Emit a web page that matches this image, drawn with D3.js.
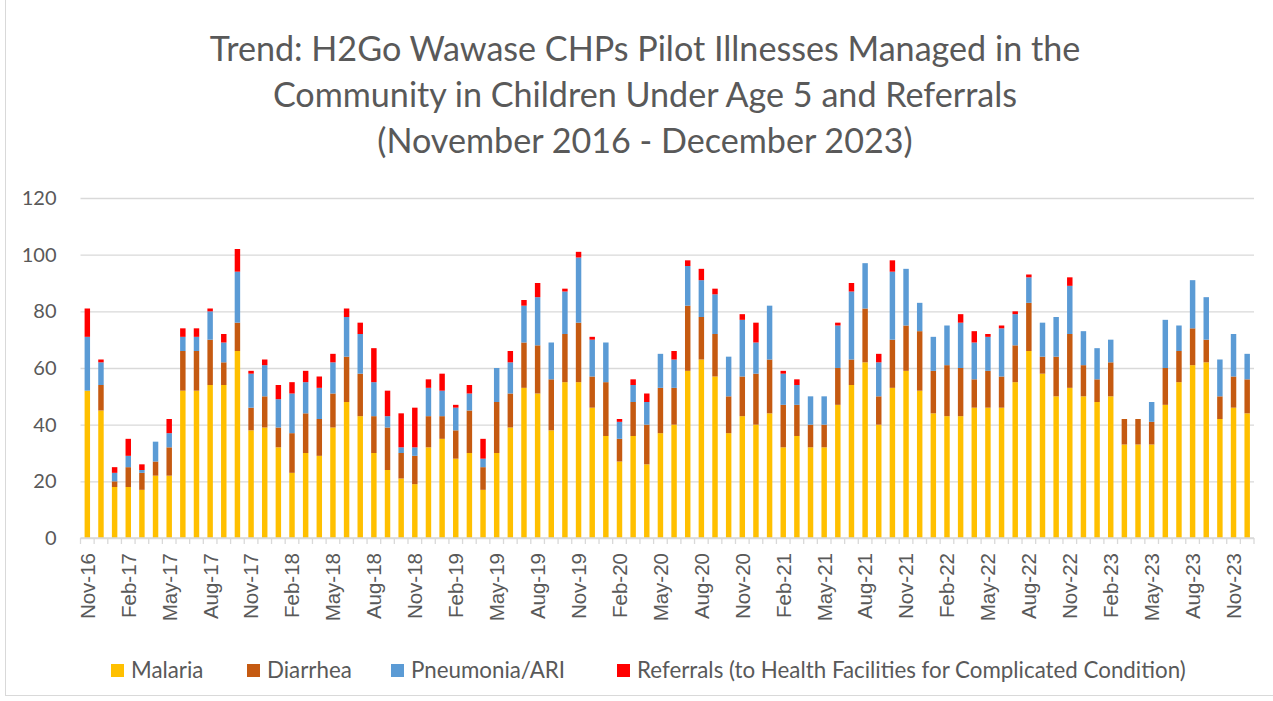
<!DOCTYPE html>
<html>
<head>
<meta charset="utf-8">
<script src="https://cdn.jsdelivr.net/npm/d3@7"></script>
<style>
  html, body { margin: 0; padding: 0; background: #ffffff; }
  svg { display: block; }
</style>
</head>
<body>
<svg id="chart" width="1273" height="701"></svg>
<script>
// ---------- DATA ----------
const months = d3.timeMonths(new Date(2016, 10, 1), new Date(2024, 0, 1)).map(d3.timeFormat("%b-%y"));

const malaria = [52,45,18,18,17,22,22,52,52,54,54,66,38,39,
  32,23,30,29,39,48,43,30,24,21,19,32,35,28,
  30,17,30,39,53,51,38,55,55,46,36,27,36,26,
  37,40,59,63,57,37,43,40,44,32,36,32,32,47,
  54,62,40,53,59,52,44,43,43,46,46,46,55,66,
  58,50,53,50,48,50,33,33,33,47,55,61,62,42,46,44];
const diarrhea = [0,9,2,7,6,5,10,14,14,16,8,10,8,11,
  7,14,14,13,12,16,15,13,15,9,10,11,8,10,
  15,8,18,12,16,17,18,17,21,11,19,8,12,14,
  16,13,23,15,15,13,14,18,19,15,11,8,8,13,
  9,19,10,17,16,21,15,18,17,10,13,11,13,17,
  6,14,19,11,8,12,9,9,8,13,11,13,8,8,11,12];
const pneumonia = [19,8,3,4,1,7,5,5,5,10,7,18,12,11,
  10,14,11,11,11,14,14,12,4,2,3,10,9,8,
  6,3,12,11,13,17,13,15,23,13,14,6,6,8,
  12,10,14,13,14,14,20,11,19,11,7,10,10,15,
  24,16,12,24,20,10,12,14,16,13,12,17,11,9,
  12,14,17,12,11,8,0,0,7,17,9,17,15,13,15,9];
const referrals = [10,1,2,6,2,0,5,3,3,1,3,8,1,2,
  5,4,4,4,3,3,4,12,9,12,14,3,6,1,
  3,7,0,4,2,5,0,1,2,1,0,1,2,3,
  0,3,2,4,2,0,2,7,0,1,2,0,0,1,
  3,0,3,4,0,0,0,0,3,4,1,1,1,1,
  0,0,3,0,0,0,0,0,0,0,0,0,0,0,0,0];

const seriesNames = ["Malaria", "Diarrhea", "Pneumonia/ARI", "Referrals (to Health Facilities for Complicated Condition)"];
const seriesColors = ["#FFC000", "#C55A11", "#5B9BD5", "#FF0000"];
const yTicks = [0, 20, 40, 60, 80, 100, 120];
const titleLines = [
  "Trend: H2Go Wawase CHPs Pilot Illnesses Managed in the",
  "Community in Children Under Age 5 and Referrals",
  "(November 2016 - December 2023)"
];

// ---------- LAYOUT ----------
const W = 1273, H = 701;
const plot = { left: 80.5, right: 1254, top: 198, bottom: 538 };
const FONT = "Lato, 'Open Sans', sans-serif";
const TEXT = "#595959";
const GRID = "#D9D9D9";

const svg = d3.select("#chart");
svg.append("rect").attr("width", W).attr("height", H).attr("fill", "#fff");
// faint chart border
svg.append("rect").attr("x", 5.5).attr("y", -2).attr("width", W + 10).attr("height", H - 3.5)
  .attr("fill", "none").attr("stroke", GRID).attr("stroke-width", 1);

const keys = ["malaria", "diarrhea", "pneumonia", "referrals"];
const rows = months.map((m, i) => ({
  month: m, malaria: malaria[i], diarrhea: diarrhea[i], pneumonia: pneumonia[i], referrals: referrals[i]
}));
const stacked = d3.stack().keys(keys)(rows);

const x = d3.scaleBand().domain(months).range([plot.left, plot.right]).paddingInner(0.6).paddingOuter(0.3);
const y = d3.scaleLinear().domain([0, 120]).range([plot.bottom, plot.top]);

// gridlines + y labels
const yAxis = d3.axisLeft(y).tickValues(yTicks).tickSize(-(plot.right - plot.left)).tickPadding(24);
const gy = svg.append("g").attr("transform", `translate(${plot.left},0)`).call(yAxis);
gy.select(".domain").remove();
gy.selectAll(".tick line").attr("stroke", GRID).attr("stroke-width", 1.3);
gy.selectAll(".tick text").attr("fill", TEXT).style("font-family", FONT).style("font-size", "20px");

// bars
svg.append("g").selectAll("g").data(stacked).join("g")
  .attr("fill", (d, i) => seriesColors[i])
  .selectAll("rect").data(d => d).join("rect")
  .attr("x", d => x(d.data.month))
  .attr("width", x.bandwidth())
  .attr("y", d => y(d[1]))
  .attr("height", d => y(d[0]) - y(d[1]));

// x axis
const step = x.step();
const xAxis = d3.axisBottom(x).tickValues(months.filter((m, i) => i % 3 === 0)).tickSize(0);
const gx = svg.append("g").attr("transform", `translate(0,${plot.bottom})`).call(xAxis);
gx.select(".domain").attr("stroke", GRID).attr("stroke-width", 1.3).attr("d", `M${plot.left},0H${plot.right}`);
gx.selectAll(".tick text")
  .attr("transform", "rotate(-90)")
  .attr("x", -15).attr("y", 0).attr("dy", "0.36em")
  .style("text-anchor", "end")
  .attr("fill", TEXT)
  .style("font-family", "'Liberation Sans', Arial, sans-serif")
  .style("font-size", "20.5px");
// category boundary tick marks
svg.append("g").selectAll("line").data(d3.range(months.length + 1)).join("line")
  .attr("x1", i => plot.left + i * step).attr("x2", i => plot.left + i * step)
  .attr("y1", plot.bottom).attr("y2", plot.bottom + 6)
  .attr("stroke", GRID).attr("stroke-width", 1.3);

// title
const title = svg.append("g");
title.selectAll("text").data(titleLines).join("text")
  .attr("x", 645).attr("y", (d, i) => 61 + i * 46)
  .attr("text-anchor", "middle")
  .attr("fill", TEXT)
  .style("font-family", FONT)
  .style("font-size", "31px")
  .text(d => d);
// fit title width to reference
(function () {
  const t = title.select("text").node();
  const w = t.getComputedTextLength();
  const fs = 31 * 871 / w;
  title.selectAll("text").style("font-size", fs + "px");
})();

// legend
const legendX = [111, 247, 391, 617];
const lg = svg.append("g").selectAll("g").data(seriesNames).join("g")
  .attr("transform", (d, i) => `translate(${legendX[i]},664)`);
lg.append("rect").attr("width", 13).attr("height", 13).attr("fill", (d, i) => seriesColors[i]);
const lt = lg.append("text").attr("x", 20).attr("y", 6.5).attr("dy", "0.35em")
  .attr("fill", TEXT).style("font-family", FONT).style("font-size", "21px").text(d => d);
(function () {
  const n = lt.nodes()[3];
  const w = n.getComputedTextLength();
  const fs = 21 * 549 / w;
  lt.style("font-size", fs + "px");
})();
</script>
</body>
</html>
